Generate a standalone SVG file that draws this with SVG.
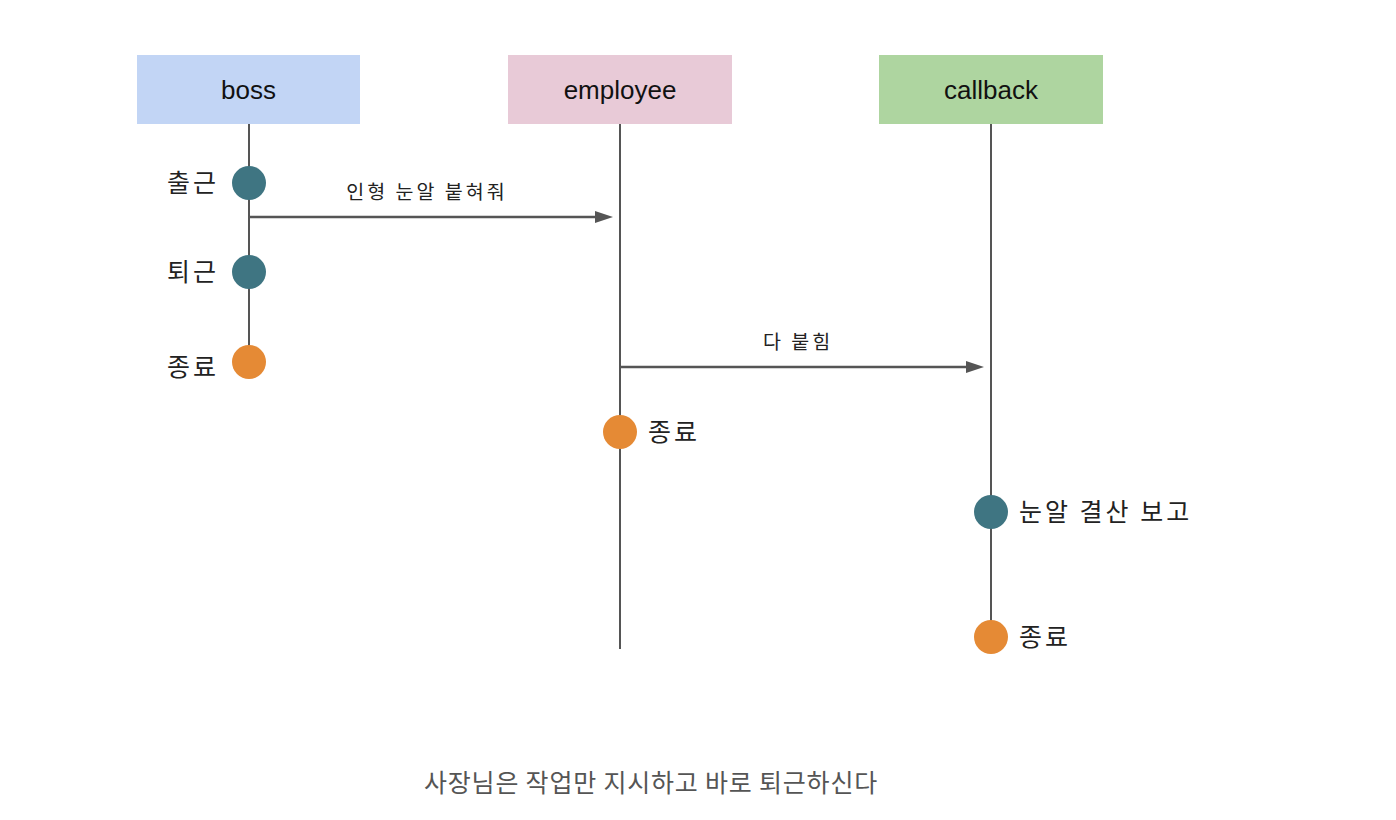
<svg xmlns="http://www.w3.org/2000/svg" width="1396" height="820" viewBox="0 0 1396 820">
<defs>
<style>
.hdr{font-family:"Liberation Sans",Arial,sans-serif;font-size:26px;fill:#111;text-anchor:middle}
.ko{font-family:"Noto Sans CJK KR","Noto Sans",sans-serif;font-size:25px;fill:#222;letter-spacing:3px}
.lbl{font-family:"Noto Sans CJK KR","Noto Sans",sans-serif;font-size:19.5px;fill:#222;letter-spacing:3px;text-anchor:middle}
.cap{font-family:"Noto Sans CJK KR","Noto Sans",sans-serif;font-size:25px;fill:#555;letter-spacing:0.8px;text-anchor:middle}
.life{stroke:#555;stroke-width:2;fill:none}
.msg{stroke:#555;stroke-width:2.5;fill:none}
.teal{fill:#3f7582}
.orange{fill:#e58a35}
</style>
</defs>
<rect width="1396" height="820" fill="#fff"/>
<g id="lifelines">
<line class="life" x1="249" y1="124" x2="249" y2="362"/>
<line class="life" x1="620" y1="124" x2="620" y2="649"/>
<line class="life" x1="991" y1="124" x2="991" y2="637"/>
</g>
<g id="connectors">
<line class="msg" x1="249" y1="217" x2="600" y2="217"/>
<path d="M595,211 L613,217 L595,223 z" fill="#555"/>
<line class="msg" x1="620" y1="367" x2="970" y2="367"/>
<path d="M966,361 L984,367 L966,373 z" fill="#555"/>
<text class="lbl" x="427" y="199">인형 눈알 붙혀줘</text>
<text class="lbl" x="798" y="349">다 붙힘</text>
</g>
<g id="boss">
<rect x="137" y="55" width="223" height="69" fill="#c2d5f5"/>
<text class="hdr" x="248.5" y="99">boss</text>
</g>
<g id="employee">
<rect x="508" y="55" width="224" height="69" fill="#e8cad7"/>
<text class="hdr" x="620" y="99">employee</text>
</g>
<g id="callback">
<rect x="879" y="55" width="224" height="69" fill="#aed5a0"/>
<text class="hdr" x="991" y="99">callback</text>
</g>
<g id="boss-start">
<circle class="teal" cx="249" cy="183" r="17"/>
<text class="ko" x="167" y="192">출근</text>
</g>
<g id="boss-leave">
<circle class="teal" cx="249" cy="272" r="17"/>
<text class="ko" x="167" y="281">퇴근</text>
</g>
<g id="boss-end">
<circle class="orange" cx="249" cy="362" r="17"/>
<text class="ko" x="167" y="376">종료</text>
</g>
<g id="employee-end">
<circle class="orange" cx="620" cy="432" r="17"/>
<text class="ko" x="648" y="441">종료</text>
</g>
<g id="callback-report">
<circle class="teal" cx="991" cy="512" r="17"/>
<text class="ko" x="1019" y="521">눈알 결산 보고</text>
</g>
<g id="callback-end">
<circle class="orange" cx="991" cy="637" r="17"/>
<text class="ko" x="1019" y="646">종료</text>
</g>
<g id="caption">
<text class="cap" x="651" y="792">사장님은 작업만 지시하고 바로 퇴근하신다</text>
</g>
</svg>
